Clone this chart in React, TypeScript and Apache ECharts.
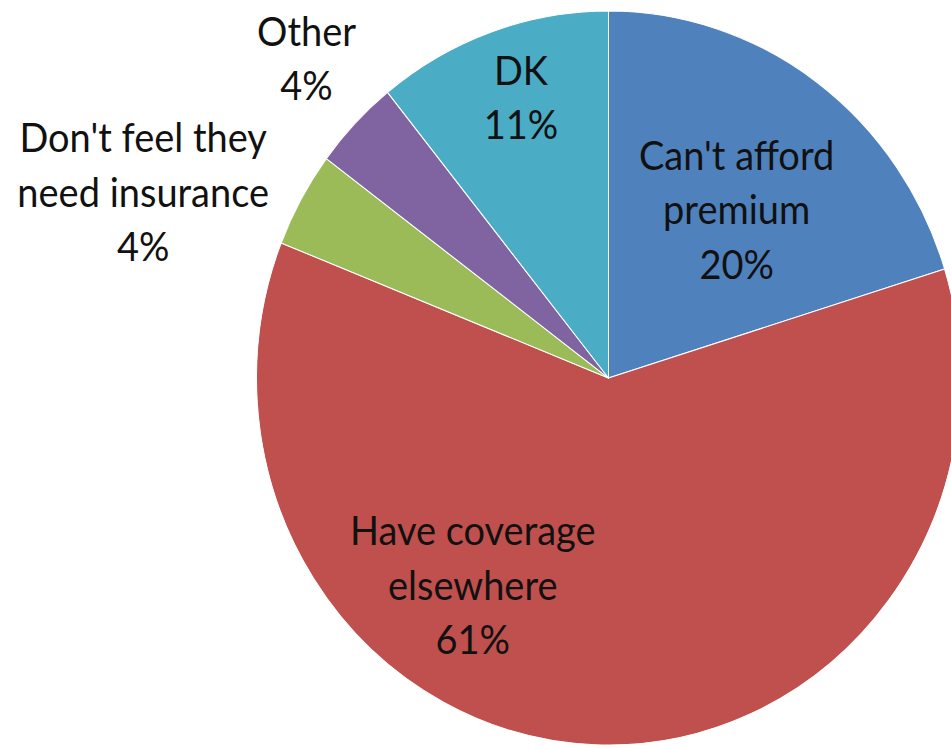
import React, { useEffect, useRef } from "react";
import * as echarts from "echarts";

const categories = [
  "Can't afford premium",
  "Have coverage elsewhere",
  "Don't feel they need insurance",
  "Other",
  "DK",
];
const labelTexts = [
  "Can't afford\npremium",
  "Have coverage\nelsewhere",
  "Don't feel they\nneed insurance",
  "Other",
  "DK",
];
const values = [20.2, 60.8, 4.2, 4.0, 10.8];
const colors = ["#4F81BD", "#C0504D", "#9BBB59", "#8064A2", "#4BACC6"];
const labelOffsets: [number, number][] = [
  [22, -18],
  [-129, 19],
  [-309, -92],
  [-173, -183],
  [-28, -101],
];

const K = 1.0426;
const W = 951;
const H = 717;

export default function App() {
  const ref = useRef<HTMLDivElement>(null);
  useEffect(() => {
    if (!ref.current) return;
    const chart = echarts.init(ref.current, null, { renderer: "svg" });
    chart.setOption({
      animation: false,
      backgroundColor: "#ffffff",
      series: [
        {
          type: "pie",
          center: [608.5, 362.6],
          radius: 352,
          startAngle: 90,
          clockwise: true,
          avoidLabelOverlap: false,
          labelLayout: { hideOverlap: false },
          labelLine: { show: false },
          itemStyle: { borderColor: "#ffffff", borderWidth: 1 },
          emphasis: { disabled: true },
          data: categories.map((name, i) => ({
            name,
            value: values[i],
            itemStyle: { color: colors[i] },
            label: {
              show: true,
              position: "inside",
              rotate: 0,
              offset: labelOffsets[i],
              formatter: () => `${labelTexts[i]}\n${Math.round(values[i])}%`,
              color: "#111111",
              fontFamily: "Lato",
              fontSize: 38,
              lineHeight: 52,
              align: "center",
            },
          })),
        },
      ],
    });
    return () => chart.dispose();
  }, []);
  return (
    <div
      style={{
        position: "absolute",
        left: 0,
        top: 0,
        width: W,
        height: 748,
        overflow: "hidden",
        background: "#fff",
      }}
    >
      <div
        ref={ref}
        style={{
          width: W,
          height: H,
          transform: `scaleY(${K})`,
          transformOrigin: "0 0",
        }}
      />
    </div>
  );
}
